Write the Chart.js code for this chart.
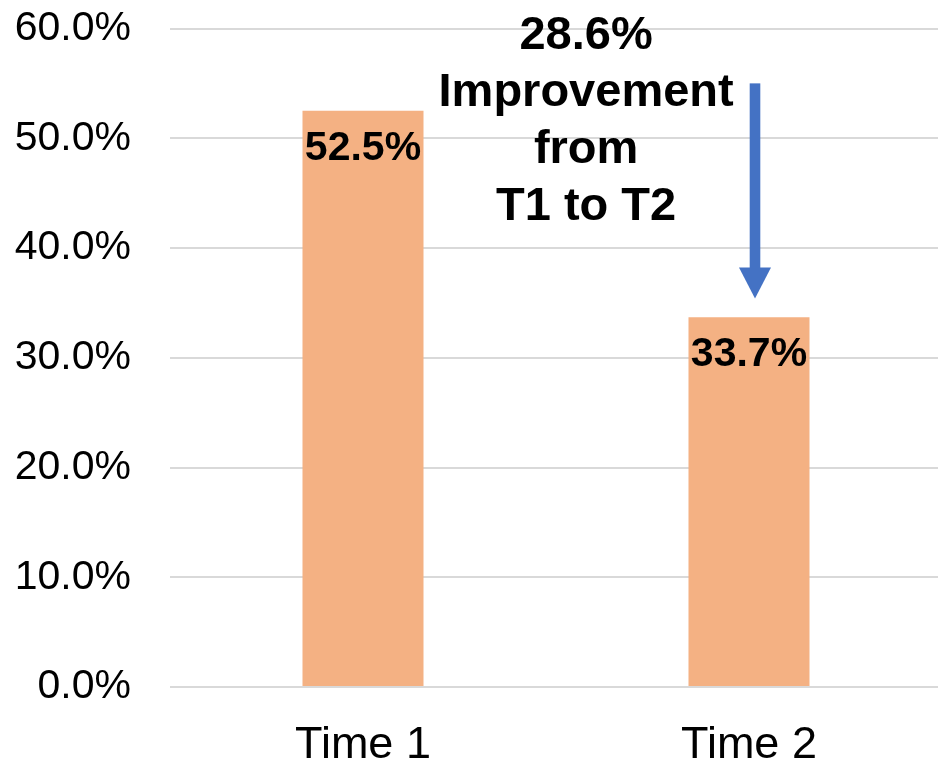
<!DOCTYPE html>
<html>
<head>
<meta charset="utf-8">
<title>Time 1 vs Time 2</title>
<script src="https://cdn.jsdelivr.net/npm/chart.js@4/dist/chart.umd.min.js"></script>
<style>
  html, body { margin: 0; padding: 0; background: #ffffff; overflow: hidden; }
  #wrap { width: 938px; height: 764px; position: relative; overflow: hidden; }
  #inner { width: 942px; height: 764px; position: absolute; left: 0; top: 0; }
</style>
</head>
<body>
<div id="wrap"><div id="inner"><canvas id="chart"></canvas></div></div>
<script>
// Categories and values (percent)
const categories = ['Time 1', 'Time 2'];
const rates = [52.5, 33.7];
const yTicks = [0, 10, 20, 30, 40, 50, 60];

// Callout text and arrow span (percent values on the y scale)
const calloutLines = ['28.6%', 'Improvement', 'from', 'T1 to T2'];
const arrowFrom = 55.0;
const arrowTo = 35.4;

const FONT = '"Liberation Sans", Arial, Helvetica, sans-serif';
const BAR_COLOR = '#F4B183';
const ARROW_COLOR = '#4472C4';

// Value labels drawn inside the top of each bar
const barLabels = {
  id: 'barLabels',
  afterDatasetsDraw(chart) {
    const ctx = chart.ctx;
    const meta = chart.getDatasetMeta(0);
    ctx.save();
    ctx.font = 'bold 41px ' + FONT;
    ctx.fillStyle = '#000000';
    ctx.textAlign = 'center';
    ctx.textBaseline = 'middle';
    meta.data.forEach((bar, i) => {
      ctx.fillText(rates[i].toFixed(1) + '%', bar.x, bar.y + 38);
    });
    ctx.restore();
  }
};

// Callout text between the bars and a downward arrow toward the second bar
const callout = {
  id: 'callout',
  afterDraw(chart) {
    const ctx = chart.ctx;
    const x = chart.scales.x;
    const y = chart.scales.y;
    const x1 = x.getPixelForValue(0);
    const x2 = x.getPixelForValue(1);

    ctx.save();
    ctx.font = 'bold 47px ' + FONT;
    ctx.fillStyle = '#000000';
    ctx.textAlign = 'center';
    ctx.textBaseline = 'alphabetic';
    const cx = x1 + (x2 - x1) * 0.578;
    const base0 = y.getPixelForValue(60) + 20;
    calloutLines.forEach((line, i) => {
      ctx.fillText(line, cx, base0 + i * 57.3);
    });

    const ax = x2 + 6;
    const yTop = y.getPixelForValue(arrowFrom);
    const yTip = y.getPixelForValue(arrowTo);
    const headLen = 31;
    const headHalf = 16;
    ctx.fillStyle = ARROW_COLOR;
    ctx.fillRect(ax - 5.3, yTop, 10.6, (yTip - headLen) - yTop + 1);
    ctx.beginPath();
    ctx.moveTo(ax - headHalf, yTip - headLen);
    ctx.lineTo(ax + headHalf, yTip - headLen);
    ctx.lineTo(ax, yTip);
    ctx.closePath();
    ctx.fill();
    ctx.restore();
  }
};

new Chart(document.getElementById('chart'), {
  type: 'bar',
  data: {
    labels: categories,
    datasets: [{
      data: rates,
      backgroundColor: BAR_COLOR,
      borderWidth: 0,
      barPercentage: 0.3135,
      categoryPercentage: 1.0
    }]
  },
  options: {
    responsive: true,
    maintainAspectRatio: false,
    animation: false,
    layout: { padding: { top: 28.5, right: 0, bottom: 0, left: 0 } },
    plugins: {
      legend: { display: false },
      tooltip: { enabled: false },
      title: { display: false }
    },
    scales: {
      x: {
        grid: { display: false, drawTicks: false },
        border: { display: false },
        ticks: {
          color: '#000000',
          font: { family: FONT, size: 45 },
          padding: 32,
          maxRotation: 0
        },
        afterFit(scale) {
          scale.height = 77;
          scale.paddingLeft = 0;
          scale.paddingRight = 0;
        }
      },
      y: {
        min: 0,
        max: 60,
        afterBuildTicks(scale) { scale.ticks = yTicks.map(v => ({ value: v })); },
        grid: { color: '#d9d9d9', lineWidth: 2, drawTicks: false },
        border: { display: false },
        ticks: {
          color: '#000000',
          font: { family: FONT, size: 41 },
          padding: 39,
          callback: v => v.toFixed(1) + '%'
        },
        afterFit(scale) {
          scale.width = 170;
          scale.paddingTop = 0;
          scale.paddingBottom = 0;
        }
      }
    }
  },
  plugins: [barLabels, callout]
});
</script>
</body>
</html>
